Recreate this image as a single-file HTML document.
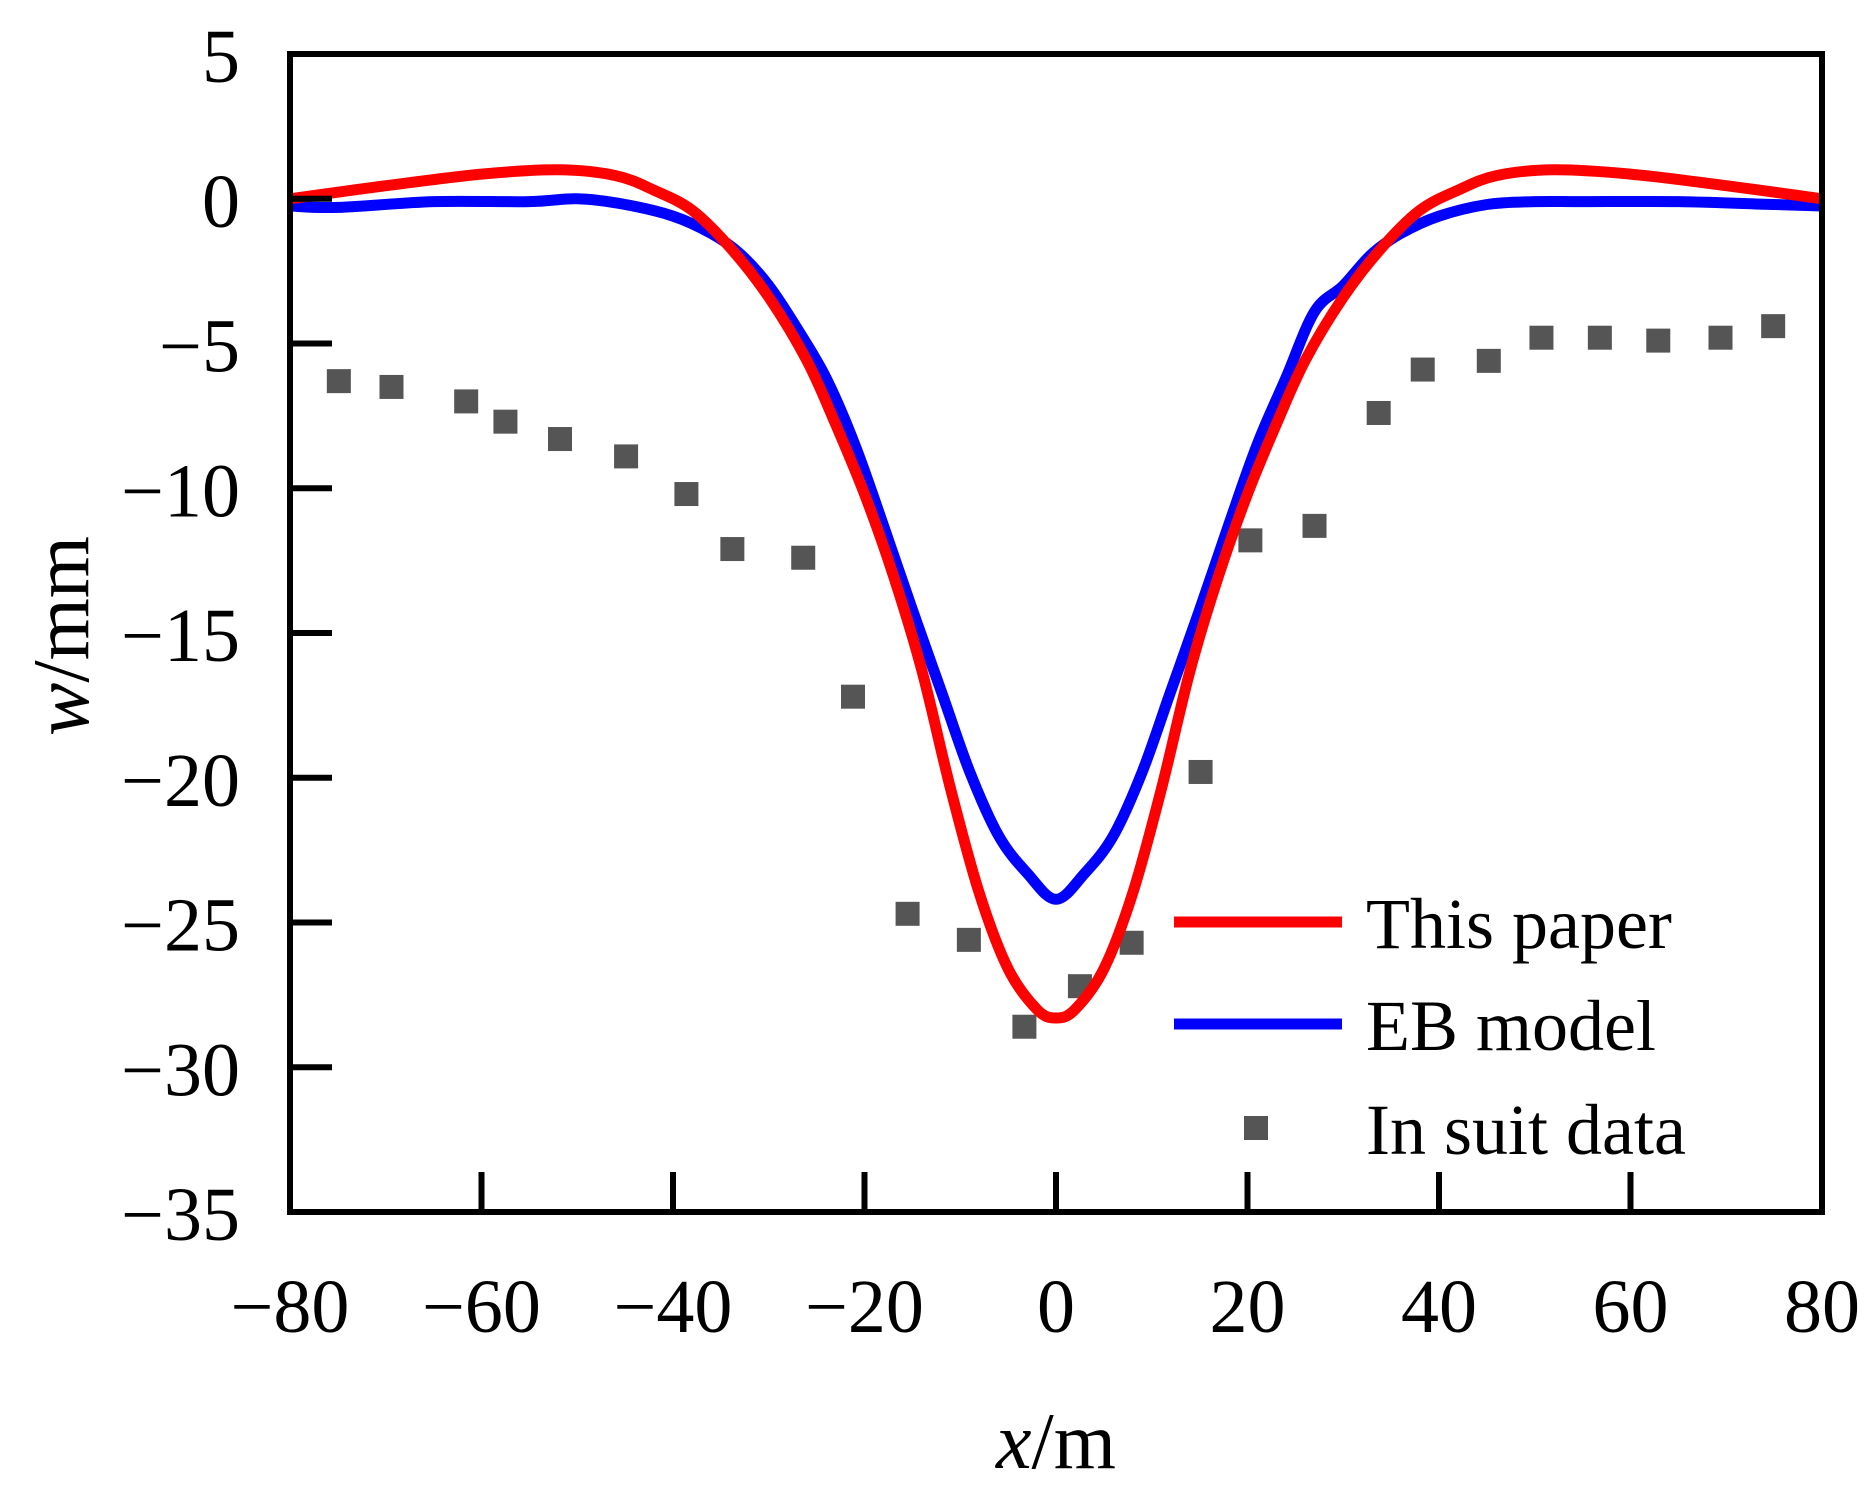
<!DOCTYPE html>
<html><head><meta charset="utf-8"><style>
html,body{margin:0;padding:0;background:#fff;}
svg{display:block;font-family:"Liberation Serif",serif;}
</style></head><body>
<svg id="chart" width="1872" height="1490" viewBox="0 0 1872 1490">
<g id="marks"></g>
<g id="axes"></g>
<text x="1056" y="1468" font-size="80" text-anchor="middle"><tspan font-style="italic">x</tspan>/m</text>
<text transform="translate(88,636) rotate(-90)" font-size="80" text-anchor="middle"><tspan font-style="italic">w</tspan>/mm</text>
<g>
<line x1="1174" y1="922" x2="1342" y2="922" stroke="#ff0000" stroke-width="11"/>
<text x="1366" y="948" font-size="72">This paper</text>
<line x1="1174" y1="1024" x2="1342" y2="1024" stroke="#0000ff" stroke-width="11"/>
<text x="1366" y="1050" font-size="72">EB model</text>
<rect x="1244" y="1116" width="24" height="24" fill="#555"/>
<text x="1366" y="1154" font-size="72">In suit data</text>
</g>
</svg>
<script>
const redX=[-80,-70,-60,-52,-46,-42,-38,-34,-30,-26,-23,-20,-17,-14,-11,-8,-5,-2,0,2,5,8,11,14,17,20,23,26,30,34,38,42,46,52,60,70,80];
const redY=[0,0.45,0.85,1.0,0.8,0.3,-0.4,-1.7,-3.4,-5.6,-7.8,-10.2,-13,-16.3,-20.4,-24,-26.6,-28,-28.3,-28,-26.6,-24,-20.4,-16.3,-13,-10.2,-7.8,-5.6,-3.4,-1.7,-0.4,0.3,0.8,1.0,0.85,0.45,0];
const blueX=[-80,-75,-65,-55,-50,-45,-40,-36,-33,-30,-27,-24,-21,-18,-15,-12,-9,-6,-3,0,3,6,9,12,15,18,21,24,27,30,33,36,40,45,50,55,65,75,80];
const blueY=[-0.25,-0.3,-0.1,-0.1,0,-0.2,-0.6,-1.2,-1.9,-3,-4.5,-6.2,-8.5,-11.3,-14.2,-17,-19.8,-22,-23.3,-24.2,-23.3,-22,-19.8,-17,-14.2,-11.3,-8.5,-6.2,-3.9,-3,-1.9,-1.2,-0.6,-0.2,-0.1,-0.1,-0.1,-0.2,-0.25];
const ptsX=[-74.9,-69.4,-61.6,-57.5,-51.8,-44.9,-38.6,-33.8,-26.4,-21.2,-15.5,-9.1,-3.3,2.5,7.9,15.1,20.3,27.0,33.7,38.3,45.2,50.7,56.8,62.9,69.4,74.9];
const ptsY=[-6.3,-6.5,-7.0,-7.7,-8.3,-8.9,-10.2,-12.1,-12.4,-17.2,-24.7,-25.6,-28.6,-27.2,-25.7,-19.8,-11.8,-11.3,-7.4,-5.9,-5.6,-4.8,-4.8,-4.9,-4.8,-4.4];
const xTicks=[-80,-60,-40,-20,0,20,40,60,80];
const yTicks=[5,0,-5,-10,-15,-20,-25,-30,-35];

const L=290,R=1822,T=54,B=1212;
const sx=v=>L+(v+80)/160*(R-L);
const sy=v=>T+(5-v)/40*(B-T);
const NS="http://www.w3.org/2000/svg";
const marks=document.getElementById('marks'),axes=document.getElementById('axes');
function mk(tag,attrs,parent){const e=document.createElementNS(NS,tag);for(const k in attrs)e.setAttribute(k,attrs[k]);parent.appendChild(e);return e;}

for(let i=0;i<ptsX.length;i++){
  const r=mk('rect',{x:sx(ptsX[i])-12,y:sy(ptsY[i])-12,width:24,height:24,fill:'#555'},marks);
  
  
}
function line(xs,ys,color,name){
  const P=xs.map((x,i)=>[sx(x),sy(ys[i])]);
  let d='M'+P[0][0].toFixed(1)+','+P[0][1].toFixed(1);
  for(let i=0;i<P.length-1;i++){
    const p0=P[Math.max(0,i-1)],p1=P[i],p2=P[i+1],p3=P[Math.min(P.length-1,i+2)];
    const c1=[p1[0]+(p2[0]-p0[0])/6,p1[1]+(p2[1]-p0[1])/6];
    const c2=[p2[0]-(p3[0]-p1[0])/6,p2[1]-(p3[1]-p1[1])/6];
    d+='C'+c1[0].toFixed(1)+','+c1[1].toFixed(1)+' '+c2[0].toFixed(1)+','+c2[1].toFixed(1)+' '+p2[0].toFixed(1)+','+p2[1].toFixed(1);
  }
  const p=mk('path',{d:d,fill:'none',stroke:color,'stroke-width':11,'stroke-linejoin':'round'},marks);
  
  
}
line(blueX,blueY,'#0000ff','eb-model-line');
line(redX,redY,'#ff0000','this-paper-line');

const frame=mk('rect',{x:L,y:T,width:R-L,height:B-T,fill:'none',stroke:'#000','stroke-width':6},axes);


xTicks.forEach(v=>{
  const t=mk('line',{x1:sx(v),x2:sx(v),y1:B,y2:B-40,stroke:'#000','stroke-width':6},axes);
  
  
  const lb=mk('text',{x:sx(v),y:1332,'font-size':76,'text-anchor':'middle'},axes);
  lb.textContent=v<0?'\u2212'+(-v):String(v);
  
  
});
yTicks.forEach(v=>{
  const t=mk('line',{x1:L,x2:L+42,y1:sy(v),y2:sy(v),stroke:'#000','stroke-width':6},axes);
  
  
  const lb=mk('text',{x:240,y:sy(v)+28,'font-size':76,'text-anchor':'end'},axes);
  lb.textContent=v<0?'\u2212'+(-v):String(v);
  
  
});
</script>
</body></html>
